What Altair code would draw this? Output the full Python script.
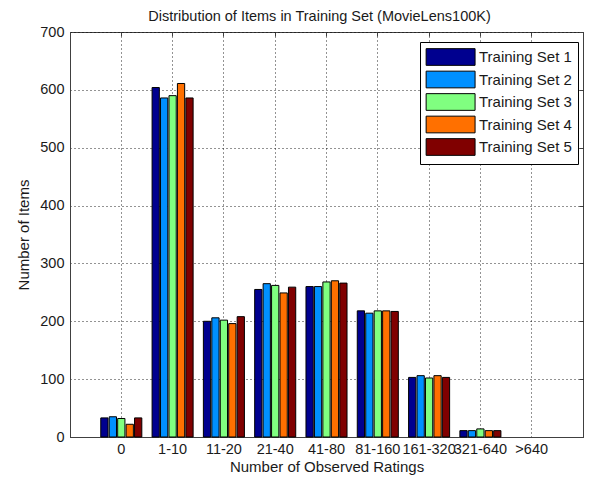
import altair as alt
import pandas as pd

categories = ["0", "1-10", "11-20", "21-40", "41-80", "81-160", "161-320", "321-640", ">640"]
series_names = ["Training Set 1", "Training Set 2", "Training Set 3", "Training Set 4", "Training Set 5"]
set1 = [33, 604, 200, 255, 260, 218, 103, 11, 0]
set2 = [35, 586, 206, 265, 260, 214, 106, 11, 0]
set3 = [32, 590, 202, 262, 268, 218, 102, 14, 0]
set4 = [22, 611, 196, 249, 270, 218, 106, 11, 0]
set5 = [33, 586, 208, 259, 266, 217, 103, 11, 0]
colors = ["#00008f", "#0090ff", "#80ff80", "#ff7000", "#800000"]
y_ticks = [0, 100, 200, 300, 400, 500, 600, 700]

rows = []
for name, vals in zip(series_names, [set1, set2, set3, set4, set5]):
    for c, v in zip(categories, vals):
        rows.append({"category": c, "series": name, "value": v})
df = pd.DataFrame(rows)

FONT = "Liberation Sans"
TXT = "#1a1a1a"
W, H = 513, 405

xscale = alt.Scale(domain=categories, paddingInner=0.2, paddingOuter=0.6)
yscale = alt.Scale(domain=[0, 700], nice=False)

bars = alt.Chart(df).transform_filter("datum.value > 0").mark_bar(
    stroke="black", strokeWidth=1
).encode(
    x=alt.X("category:N", scale=xscale, sort=categories,
            axis=alt.Axis(title="Number of Observed Ratings", orient="bottom",
                          labelAngle=0, tickSize=0, labelPadding=5,
                          grid=True, gridDash=[1, 3], gridColor="#000", gridOpacity=0.85,
                          domainColor="#404040", labelFont=FONT, labelFontSize=14.5,
                          labelColor=TXT, titleFont=FONT, titleFontSize=15,
                          titleFontWeight="normal", titleColor=TXT,
                          titleX=W / 2, titleY=34, titleBaseline="alphabetic")),
    xOffset=alt.XOffset("series:N", scale=alt.Scale(paddingInner=0.14, paddingOuter=0)),
    y=alt.Y("value:Q", scale=yscale,
            axis=alt.Axis(title="Number of Items", orient="left", values=y_ticks,
                          tickSize=0, labelPadding=6,
                          grid=True, gridDash=[1, 3], gridColor="#000", gridOpacity=0.85,
                          domainColor="#404040", labelFont=FONT, labelFontSize=14.5,
                          labelColor=TXT, titleFont=FONT, titleFontSize=15,
                          titleFontWeight="normal", titleColor=TXT,
                          titleAngle=270, titleX=-42, titleY=H / 2,
                          titleBaseline="alphabetic")),
    color=alt.Color("series:N", scale=alt.Scale(domain=series_names, range=colors),
                    legend=alt.Legend(title=None, orient="none", legendX=350, legendY=10,
                                      symbolType="M-2.93,-1H2.93V1H-2.93Z", symbolSize=279,
                                      symbolOffset=15.6,
                                      symbolStrokeColor="black", symbolStrokeWidth=1,
                                      symbolOpacity=1, labelFont=FONT, labelFontSize=15,
                                      labelColor=TXT, labelOffset=19.4, rowPadding=0.5,
                                      padding=6, strokeColor="black", fillColor="white")),
)

ticks_layer = alt.Chart(df).mark_point(opacity=0).encode(
    x=alt.X("category:N", scale=xscale, sort=categories,
            axis=alt.Axis(title=None, orient="top", labels=False, domain=False,
                          grid=False, tickSize=4, offset=-4, tickColor="#404040",
                          minExtent=0, maxExtent=0)),
    y=alt.Y("value:Q", scale=yscale,
            axis=alt.Axis(title=None, orient="right", labels=False, domain=False,
                          grid=False, values=y_ticks, tickSize=4, offset=-4,
                          tickColor="#404040", minExtent=0, maxExtent=0)),
)

chart = alt.layer(bars, ticks_layer).resolve_axis(
    x="independent", y="independent"
).properties(
    width=W, height=H,
    autosize=alt.AutoSizeParams(type="none"),
    padding={"left": 62, "top": 24, "right": 1, "bottom": 38},
    title=alt.TitleParams("Distribution of Items in Training Set (MovieLens100K)",
                          font=FONT, fontSize=14.5, fontWeight="normal", color=TXT,
                          anchor="middle", baseline="alphabetic", offset=14, dx=-7, dy=25),
).configure_view(stroke="#404040", strokeWidth=1)

chart.save("out.html", embed_options={"renderer": "svg", "actions": False})
